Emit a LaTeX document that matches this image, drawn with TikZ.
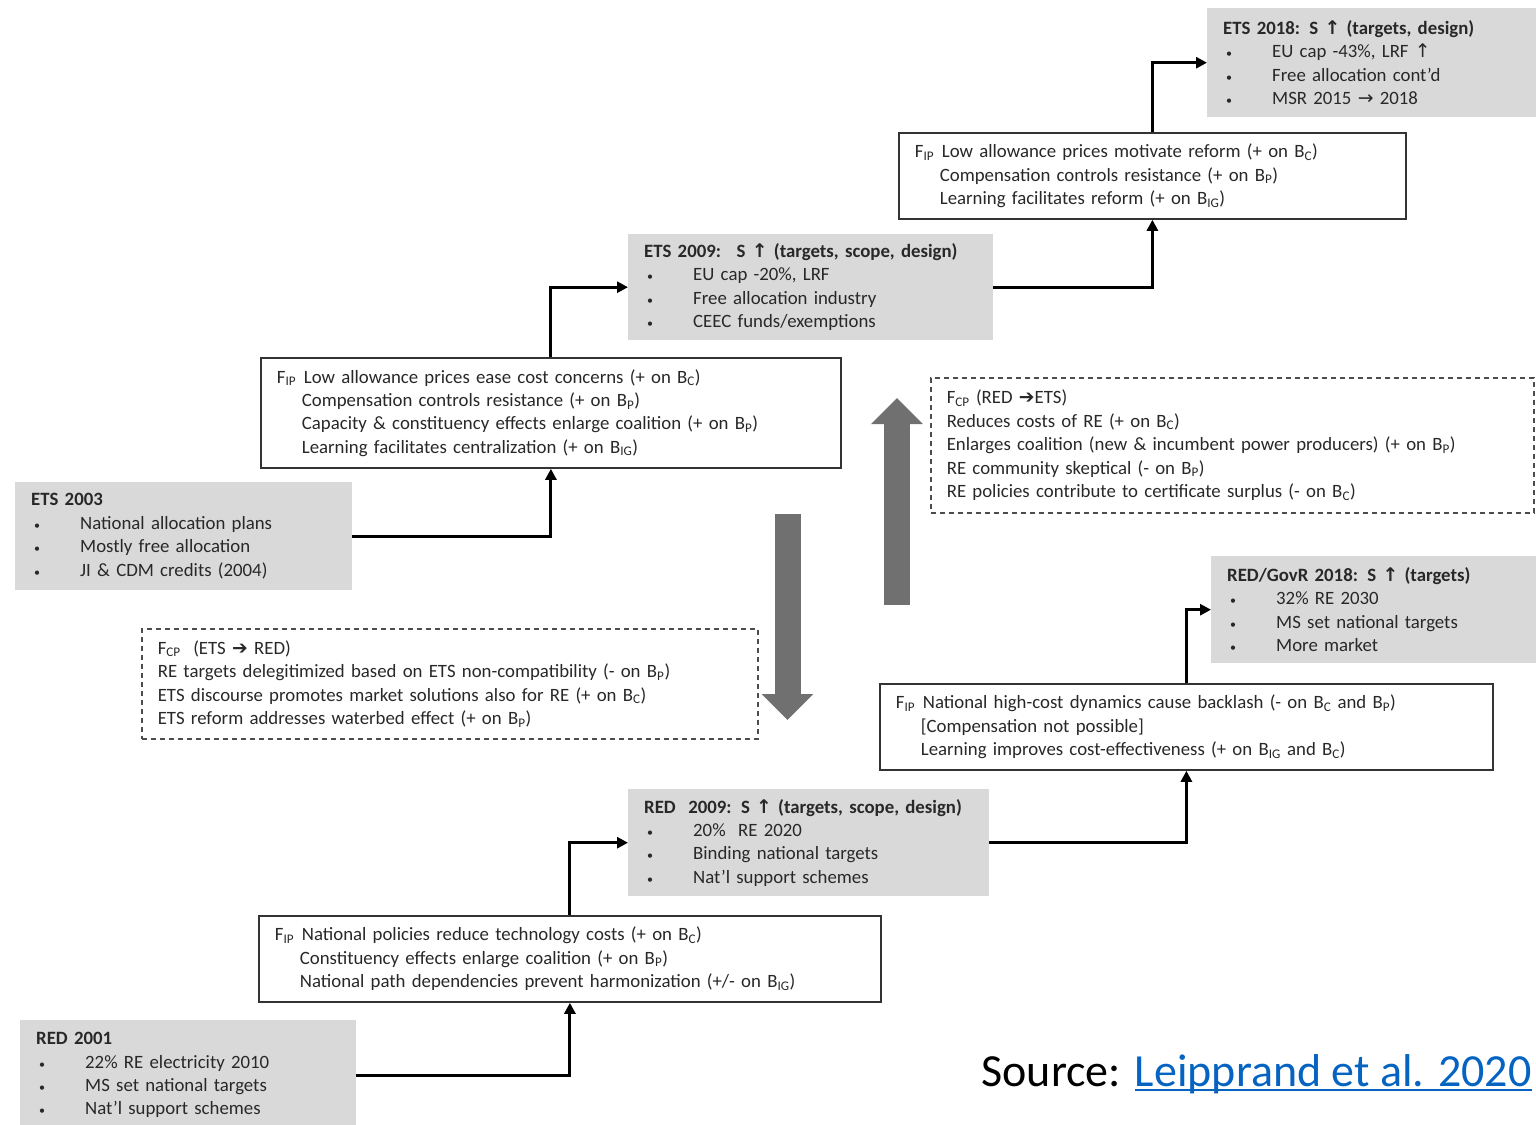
\documentclass[tikz,border=0pt]{standalone}
\usepackage{fontspec}
\setmainfont{Carlito}
\newfontfamily\symfont{DejaVu Sans}
\usetikzlibrary{arrows.meta}
\definecolor{boxgray}{RGB}{217,217,217}
\definecolor{arrowgray}{RGB}{112,112,112}
\definecolor{linkblue}{RGB}{5,99,193}
\definecolor{textgray}{RGB}{40,40,40}

\newcommand{\Fip}{F\textsubscript{IP}}
\newcommand{\Fcp}{F\textsubscript{CP}}
\newcommand{\Bx}[1]{B\textsubscript{#1}}
\newcommand{\uparr}{{\symfont ↑}}
\newcommand{\rarr}{{\symfont →}}
\newcommand{\barr}{{\symfont ➔}}
\newcommand{\bul}{\makebox[49pt][l]{\hspace*{3pt}{\fontsize{12}{12}\selectfont•}}}
\newcommand{\fhead}[1]{\makebox[27pt][l]{#1}}
\newcommand{\find}{\hspace*{25pt}}
\newcommand{\linkul}[1]{\leavevmode\setbox0\hbox{#1}\rlap{\copy0}\rule[-5pt]{\wd0}{1.8pt}}

\begin{document}
\begin{tikzpicture}[x=1pt,y=-1pt,
	every node/.style={font=\fontsize{18.8}{23.4}\selectfont,text=textgray},
	stagebox/.style 2 args={fill=boxgray,anchor=north west,align=left,inner ysep=0pt,
		inner xsep=16pt,minimum width=#1pt,minimum height=#2pt,text width=#1pt-32pt},
	forcebox/.style 2 args={draw=black!80,line width=1.8pt,fill=white,anchor=north west,align=left,
		inner ysep=0pt,inner xsep=16pt,minimum width=#1pt,minimum height=#2pt,text width=#1pt-32pt},
	crossbox/.style 2 args={draw=black!70,dashed,dash pattern=on 5pt off 4pt,line width=1.6pt,
		anchor=north west,align=left,inner ysep=0pt,inner xsep=16pt,
		minimum width=#1pt,minimum height=#2pt,text width=#1pt-32pt},
	link/.style={line width=3pt,-{Triangle[length=11pt,width=11pt]}},
	bigarrow/.style={arrowgray,line width=26pt,-{Triangle[length=26pt,width=50pt]}},
	]
	\useasboundingbox (0,0) rectangle (1536,1124);
	
	% the ETS stages
	\node[stagebox={337}{108}] (ets03) at (15,482)
	{\textbf{ETS 2003}\\ \bul National allocation plans\\ \bul Mostly free allocation\\ \bul JI \& CDM credits (2004)};
	\node[stagebox={365}{106}] (ets09) at (628,234)
	{\textbf{ETS 2009:~ S \uparr\ (targets, scope, design)}\\ \bul EU cap -20\%, LRF\\ \bul Free allocation industry\\ \bul CEEC funds/exemptions};
	\node[stagebox={340}{109}] (ets18) at (1207,8)
	{\textbf{ETS 2018: S \uparr\ (targets, design)}\\ \bul EU cap -43\%, LRF \uparr\\ \bul Free allocation cont'd\\ \bul MSR 2015 \rarr\ 2018};
	
	% the RED stages
	\node[stagebox={336}{110}] (red01) at (20,1020)
	{\textbf{RED 2001}\\ \bul 22\% RE electricity 2010\\ \bul MS set national targets\\ \bul Nat'l support schemes};
	\node[stagebox={361}{107}] (red09) at (628,789)
	{\textbf{RED~ 2009: S \uparr\ (targets, scope, design)}\\ \bul 20\%~ RE 2020\\ \bul Binding national targets\\ \bul Nat'l support schemes};
	\node[stagebox={340}{107}] (red18) at (1211,556)
	{\textbf{RED/GovR 2018: S \uparr\ (targets)}\\ \bul 32\% RE 2030\\ \bul MS set national targets\\ \bul More market};
	
	% the feedbacks inside a policy
	\node[forcebox={580}{110}] (fipets1) at (260,357)
	{\fhead{\Fip}Low allowance prices ease cost concerns (+ on \Bx{C})\\
	 \find Compensation controls resistance (+ on \Bx{P})\\
	 \find Capacity \& constituency effects enlarge coalition (+ on \Bx{P})\\
	 \find Learning facilitates centralization (+ on \Bx{IG})};
	\node[forcebox={507}{86}] (fipets2) at (898,132)
	{\fhead{\Fip}Low allowance prices motivate reform (+ on \Bx{C})\\
	 \find Compensation controls resistance (+ on \Bx{P})\\
	 \find Learning facilitates reform (+ on \Bx{IG})};
	\node[forcebox={622}{86}] (fipred1) at (258,915)
	{\fhead{\Fip}National policies reduce technology costs (+ on \Bx{C})\\
	 \find Constituency effects enlarge coalition (+ on \Bx{P})\\
	 \find National path dependencies prevent harmonization (+/- on \Bx{IG})};
	\node[forcebox={613}{86}] (fipred2) at (879,683)
	{\fhead{\Fip}National high-cost dynamics cause backlash (- on \Bx{C} and \Bx{P})\\
	 \find [Compensation not possible]\\
	 \find Learning improves cost-effectiveness (+ on \Bx{IG} and \Bx{C})};
	
	% the feedbacks across policies
	\node[crossbox={603}{135}] (fcp1) at (930,377)
	{\Fcp\ (RED \barr ETS)\\ Reduces costs of RE (+ on \Bx{C})\\
	 Enlarges coalition (new \& incumbent power producers) (+ on \Bx{P})\\
	 RE community skeptical (- on \Bx{P})\\
	 RE policies contribute to certificate surplus (- on \Bx{C})};
	\node[crossbox={616}{110}] (fcp2) at (141,628)
	{\Fcp\ \ (ETS \barr\ RED)\\ RE targets delegitimized based on ETS non-compatibility (- on \Bx{P})\\
	 ETS discourse promotes market solutions also for RE (+ on \Bx{C})\\
	 ETS reform addresses waterbed effect (+ on \Bx{P})};
	
	% the edges
	\draw[link] (ets03.east) -| (fipets1.south);
	\draw[link] (fipets1.north) |- (ets09.west);
	\draw[link] (ets09.east) -| (fipets2.south);
	\draw[link] (fipets2.north) |- (ets18.west);
	\draw[link] (red01.east) -| (fipred1.south);
	\draw[link] (fipred1.north) |- (red09.west);
	\draw[link] (red09.east) -| (fipred2.south);
	\draw[link] (fipred2.north) |- (red18.west);
	
	% the big arrows
	\coordinate (upfrom) at (897,605);
	\coordinate (upto) at (897,398);
	\coordinate (downfrom) at (787.5,514);
	\coordinate (downto) at (787.5,720);
	\draw[bigarrow] (upfrom) -- (upto);
	\draw[bigarrow] (downfrom) -- (downto);
	
	% the source
	\node[anchor=base west,text=black,font=\fontsize{46}{52}\selectfont] (src) at (978,1086)
	{Source: \textcolor{linkblue}{\linkul{Leipprand et al. 2020}}};
\end{tikzpicture}
\end{document}
